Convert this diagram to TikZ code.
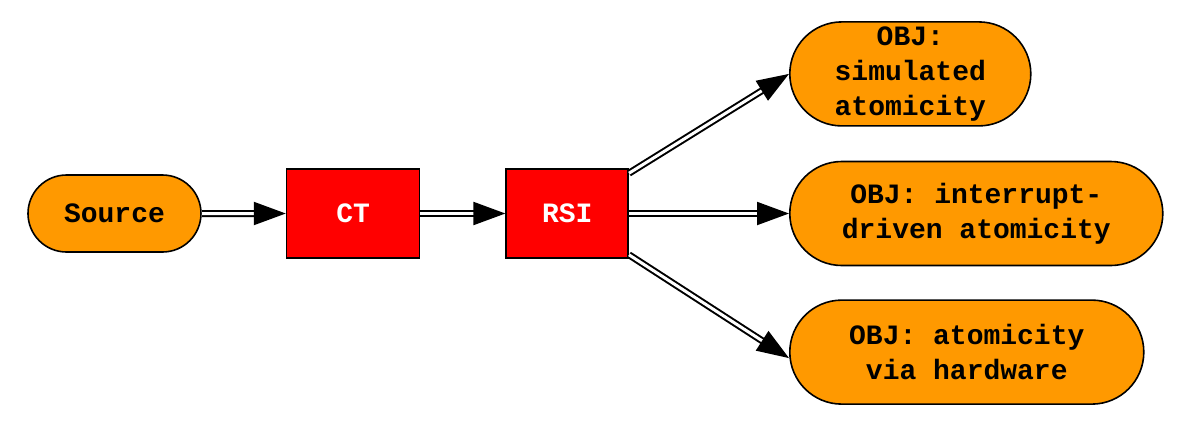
\documentclass[tikz,border=0pt]{standalone}
\usepackage{xcolor}
\usepackage{tikz}
\usepackage{fontspec}
\setmonofont{Liberation Mono}
\usetikzlibrary{
  arrows.meta,
  shapes,
  shapes.misc,
  positioning,
  calc
}
\definecolor{rgOrange}{HTML}{FF9900}
\definecolor{rgRed}{HTML}{FF0000}
\tikzset{
  rgnode/.style={
    draw=black, line width=0.8pt, inner sep=2pt, align=center,
    font=\ttfamily\bfseries\fontsize{14}{17.5}\selectfont
  },
  srcbox/.style={rgnode, rounded rectangle, fill=rgOrange},
  objbox/.style={rgnode, rounded rectangle, fill=rgOrange, minimum height=52pt},
  stagebox/.style={rgnode, rectangle, fill=rgRed, text=white, minimum height=44.5pt},
  flow/.style={
    draw=black, line width=1pt, double=white, double distance=1.5pt,
    -{Triangle[length=16pt, width=11.5pt]}
  }
}
\begin{document}
\begin{tikzpicture}
  \useasboundingbox (0,0) rectangle (597pt,-212.5pt);
  \node[srcbox, minimum width=90.5pt, minimum height=38.5pt] (src) at (57.25pt,-106.75pt) {Source};
  \node[stagebox, minimum width=66.5pt, right=42pt of src] (ct) {CT};
  \node[stagebox, minimum width=61pt, right=42.5pt of ct] (rsi) {RSI};
  \node[objbox, minimum width=190.5pt, right=80pt of rsi] (objint) {OBJ: interrupt-\\driven atomicity};
  \node[objbox, minimum width=124.5pt, above=17pt of objint.north west, anchor=south west] (objsim) {OBJ:\\simulated\\atomicity};
  \node[objbox, minimum width=181pt, below=16.5pt of objint.south west, anchor=north west] (objhw) {OBJ: atomicity\\via hardware};
  \draw[flow] (src) -- (ct);
  \draw[flow] (ct) -- (rsi);
  \draw[flow] ([yshift=-2.5pt]rsi.north east) -- (objsim.west);
  \draw[flow] (rsi) -- (objint);
  \draw[flow] ([yshift=2pt]rsi.south east) -- ([yshift=-3pt]objhw.west);
\end{tikzpicture}
\end{document}
